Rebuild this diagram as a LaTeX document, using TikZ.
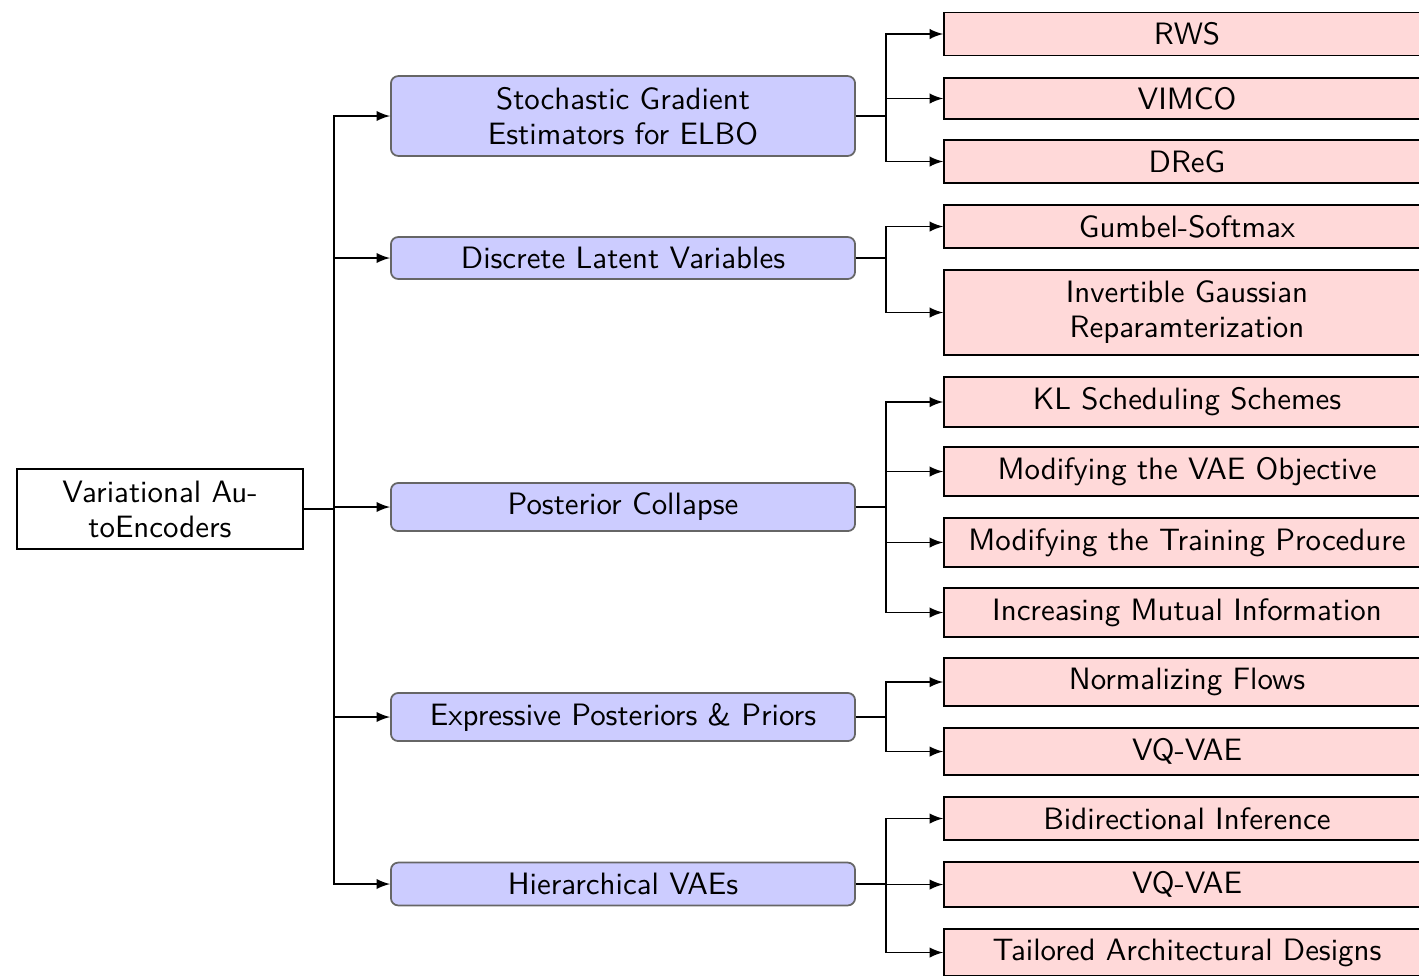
\documentclass[tikz,border=0pt]{standalone}
\usetikzlibrary{arrows}
\definecolor{bluefill}{RGB}{204,204,255}
\definecolor{pinkfill}{RGB}{255,217,217}
\tikzset{
  x=0.343pt, y=-0.343pt,
  every node/.style={font=\sffamily\fontsize{10.6}{12}\selectfont, inner sep=0pt, align=center},
  rootbox/.style={draw=black, line width=0.6pt, fill=white, minimum width=98.1pt, minimum height=27.4pt},
  catbox/.style={draw=black!60, line width=0.6pt, fill=bluefill, rounded corners=2.5pt, minimum width=159.2pt},
  leafbox/.style={draw=black, line width=0.6pt, fill=pinkfill, minimum width=166.7pt},
  conn/.style={draw=black, line width=0.6pt},
  arr/.style={conn, -latex},
}
\begin{document}
\begin{tikzpicture}
\useasboundingbox (0,0) rectangle (1419,975);
\clip (0,0) rectangle (1419,975);

% root
\node[rootbox] (root) at (160,509) {Variational Au-\\toEncoders};

% categories
\node[catbox, minimum height=27.4pt] (b1) at (623,116) {Stochastic Gradient\\Estimators for ELBO};
\node[catbox, minimum height=14.4pt] (b2) at (623,258) {Discrete Latent Variables};
\node[catbox, minimum height=16.5pt] (b3) at (623,507) {Posterior Collapse};
\node[catbox, minimum height=16.5pt] (b4) at (623,717) {Expressive Posteriors \& Priors};
\node[catbox, minimum height=14.7pt] (b5) at (623,884) {Hierarchical VAEs};

% leaves
\node[leafbox, minimum height=14.7pt] (l1) at (1187,34) {RWS};
\node[leafbox, minimum height=14.1pt] (l2) at (1187,98.5) {VIMCO};
\node[leafbox, minimum height=14.7pt] (l3) at (1187,161.5) {DReG};
\node[leafbox, minimum height=14.7pt] (l4) at (1187,226.5) {Gumbel-Softmax};
\node[leafbox, minimum height=29.2pt] (l5) at (1187,312.5) {Invertible Gaussian\\Reparamterization};
\node[leafbox, minimum height=17.2pt] (l6) at (1187,402) {KL Scheduling Schemes};
\node[leafbox, minimum height=16.8pt] (l7) at (1187,471.5) {Modifying the VAE Objective};
\node[leafbox, minimum height=16.8pt] (l8) at (1187,542.5) {Modifying the Training Procedure};
\node[leafbox, minimum height=16.8pt] (l9) at (1187,612.5) {Increasing Mutual Information};
\node[leafbox, minimum height=16.5pt] (l10) at (1187,682) {Normalizing Flows};
\node[leafbox, minimum height=16.1pt] (l11) at (1187,751.5) {VQ-VAE};
\node[leafbox, minimum height=14.7pt] (l12) at (1187,818.5) {Bidirectional Inference};
\node[leafbox, minimum height=15.4pt] (l13) at (1187,884.5) {VQ-VAE};
\node[leafbox, minimum height=16.1pt] (l14) at (1187,952.5) {Tailored Architectural Designs};

% trunk
\coordinate (t) at (334,509);
\draw[conn] (root.east) -- (t);
\foreach \b in {b1,b2,b3,b4,b5} \draw[arr] (t) |- (\b.west);

% sub-branches
\coordinate (s1) at (886,116);
\coordinate (s2) at (886,258);
\coordinate (s3) at (886,507);
\coordinate (s4) at (886,717);
\coordinate (s5) at (886,884);
\draw[conn] (b1.east) -- (s1);
\draw[conn] (b2.east) -- (s2);
\draw[conn] (b3.east) -- (s3);
\draw[conn] (b4.east) -- (s4);
\draw[conn] (b5.east) -- (s5);
\foreach \l in {l1,l2,l3} \draw[arr] (s1) |- (\l.west);
\foreach \l in {l4,l5} \draw[arr] (s2) |- (\l.west);
\foreach \l in {l6,l7,l8,l9} \draw[arr] (s3) |- (\l.west);
\foreach \l in {l10,l11} \draw[arr] (s4) |- (\l.west);
\foreach \l in {l12,l13,l14} \draw[arr] (s5) |- (\l.west);
\end{tikzpicture}
\end{document}
